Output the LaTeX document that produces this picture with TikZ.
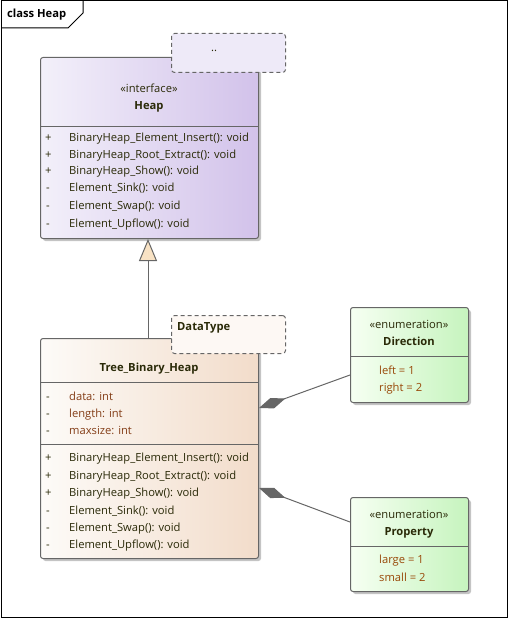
\documentclass[tikz,border=0pt]{standalone}
\usepackage{fontspec}
\setmainfont{Open Sans}
\usetikzlibrary{arrows.meta}
\definecolor{ink}{HTML}{2A2A08}
\definecolor{attr}{HTML}{843E18}
\definecolor{lit}{HTML}{984808}
\definecolor{boxline}{HTML}{666666}
\definecolor{shade}{HTML}{C4C4C4}
\definecolor{heapL}{HTML}{F3F0FA}
\definecolor{heapR}{HTML}{D2C2EA}
\definecolor{treeL}{HTML}{FDFBF8}
\definecolor{treeR}{HTML}{F2DCCA}
\definecolor{enumL}{HTML}{F6FFF2}
\definecolor{enumR}{HTML}{C6F4BE}
\definecolor{tmplA}{HTML}{EEEAF8}
\definecolor{tmplB}{HTML}{FDF8F4}
\definecolor{tri}{HTML}{F8E2C4}
\definecolor{dia}{HTML}{666666}
\begin{document}
\begin{tikzpicture}[x=1pt,y=-1pt,font=\fontsize{11.2}{13}\selectfont,
  box/.style={draw=boxline,line width=1pt,rounded corners=2.5pt,anchor=north west,inner sep=0pt},
  shadowbox/.style={fill=shade,rounded corners=2.5pt},
  tmpl/.style={draw=boxline,dashed,dash pattern=on 4pt off 3pt,line width=1pt,rounded corners=3pt,anchor=north west,inner sep=0pt},
  sep/.style={draw=boxline,line width=1pt},
  lbl/.style={anchor=base west,inner sep=0pt,text=ink},
  alb/.style={anchor=base west,inner sep=0pt,text=attr},
  vis/.style={anchor=base west,inner sep=0pt,text=ink},
  ctr/.style={anchor=base,inner sep=0pt,text=ink},
  bf/.style={font=\fontsize{11.2}{13}\selectfont\bfseries},
  conn/.style={draw=boxline,line width=1pt}]
\useasboundingbox (0,0) rectangle (509,620);
% frame
\draw[black,line width=1pt] (1,1) rectangle (507,617);
\draw[black,line width=1pt] (83,1) -- (83,13) -- (68,28) -- (1,28);
\node[anchor=base west,inner sep=0pt,text=black,bf] (title) at (7,18) {class Heap};

% Heap interface
\fill[shadowbox] (43,60) rectangle (261,241);
\node[box,minimum width=218,minimum height=181,left color=heapL,right color=heapR] (heap) at (40,57) {};
\draw[sep] (40,127) -- (258,127);
\node[ctr] (heapst) at (149,93) {«interface»};
\node[ctr,bf] (heapname) at (149,110) {Heap};
\node[vis] (hv1) at (45,142) {+};
\node[vis] (hv2) at (45,159) {+};
\node[vis] (hv3) at (45,175) {+};
\node[vis] (hv4) at (46,192) {-};
\node[vis] (hv5) at (46,209) {-};
\node[vis] (hv6) at (46,227) {-};
\node[lbl] (hm1) at (69,142) {BinaryHeap\_Element\_Insert(): void};
\node[lbl] (hm2) at (69,159) {BinaryHeap\_Root\_Extract(): void};
\node[lbl] (hm3) at (69,175) {BinaryHeap\_Show(): void};
\node[lbl] (hm4) at (69,192) {Element\_Sink(): void};
\node[lbl] (hm5) at (69,209) {Element\_Swap(): void};
\node[lbl] (hm6) at (69,227) {Element\_Upflow(): void};
\node[tmpl,minimum width=114,minimum height=39,fill=tmplA] (tp1) at (171,33) {};
\node[ctr] (tp1t) at (214,52) {..};

% Tree_Binary_Heap
\fill[shadowbox] (43,341) rectangle (261,561);
\node[box,minimum width=218,minimum height=220,left color=treeL,right color=treeR] (tree) at (40,338) {};
\draw[sep] (40,382) -- (258,382);
\draw[sep] (40,444) -- (258,444);
\node[ctr,bf] (treename) at (149,371) {Tree\_Binary\_Heap};
\node[vis] (ta1) at (46,400) {-};
\node[vis] (ta2) at (46,417) {-};
\node[vis] (ta3) at (46,434) {-};
\node[alb] (tat1) at (69,400) {data: int};
\node[alb] (tat2) at (69,417) {length: int};
\node[alb] (tat3) at (69,434) {maxsize: int};
\node[vis] (tv1) at (45,461) {+};
\node[vis] (tv2) at (45,479) {+};
\node[vis] (tv3) at (45,496) {+};
\node[vis] (tv4) at (46,514) {-};
\node[vis] (tv5) at (46,531) {-};
\node[vis] (tv6) at (46,548) {-};
\node[lbl] (tm1) at (69,461) {BinaryHeap\_Element\_Insert(): void};
\node[lbl] (tm2) at (69,479) {BinaryHeap\_Root\_Extract(): void};
\node[lbl] (tm3) at (69,496) {BinaryHeap\_Show(): void};
\node[lbl] (tm4) at (69,514) {Element\_Sink(): void};
\node[lbl] (tm5) at (69,531) {Element\_Swap(): void};
\node[lbl] (tm6) at (69,548) {Element\_Upflow(): void};

% Direction enum
\fill[shadowbox] (353,310) rectangle (471,405);
\node[box,minimum width=118,minimum height=95,left color=enumL,right color=enumR] (dir) at (350,307) {};
\draw[sep] (350,356) -- (468,356);
\node[ctr] (dirst) at (409,328) {«enumeration»};
\node[ctr,bf] (dirname) at (409,345) {Direction};
\node[anchor=base west,inner sep=0pt,text=lit] (dl1) at (379,374) {left = 1};
\node[anchor=base west,inner sep=0pt,text=lit] (dl2) at (379,391) {right = 2};

% Property enum
\fill[shadowbox] (353,500) rectangle (471,594);
\node[box,minimum width=118,minimum height=94,left color=enumL,right color=enumR] (prop) at (350,497) {};
\draw[sep] (350,546) -- (468,546);
\node[ctr] (propst) at (409,518) {«enumeration»};
\node[ctr,bf] (propname) at (409,535) {Property};
\node[anchor=base west,inner sep=0pt,text=lit] (pl1) at (379,563) {large = 1};
\node[anchor=base west,inner sep=0pt,text=lit] (pl2) at (379,581) {small = 2};

% DataType template
\node[tmpl,minimum width=114,minimum height=38,fill=tmplB] (tp2) at (171,315) {};
\node[anchor=base west,inner sep=0pt,text=ink,bf] (tp2t) at (177,330) {DataType};

% connectors
\draw[conn,-{Triangle[length=22pt,width=18pt,fill=tri]}] (tree.north -| 148,0) -- (heap.south -| 148,0);
\draw[conn,-{Diamond[length=28pt,width=11pt,fill=dia]}] (dir.west |- 0,375) -- (tree.east |- 0,408);
\draw[conn,-{Diamond[length=28pt,width=11pt,fill=dia]}] (prop.west |- 0,522) -- (tree.east |- 0,488);
\end{tikzpicture}
\end{document}
